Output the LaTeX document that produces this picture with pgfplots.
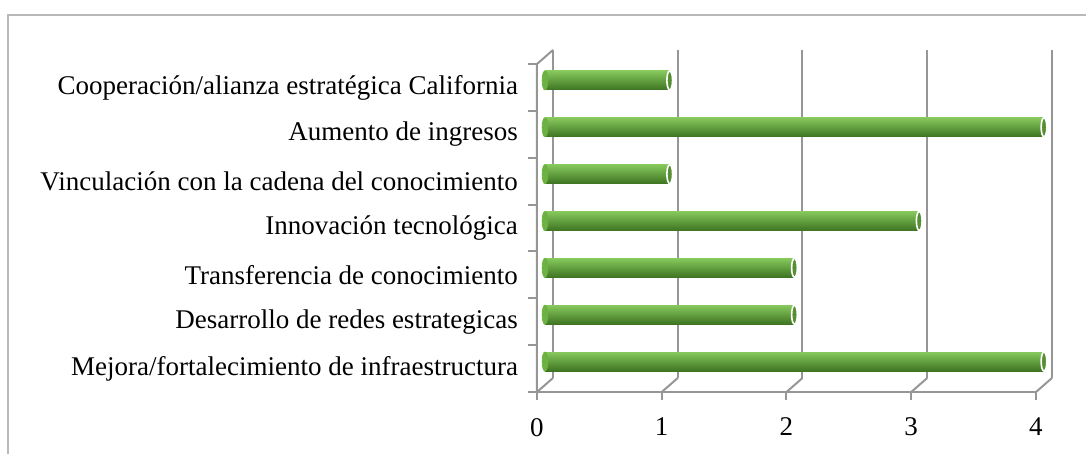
\documentclass[border=0pt]{standalone}
\usepackage{fontspec}
\setmainfont{Liberation Serif}
\usepackage{pgfplots}
\pgfplotsset{compat=1.18}
\definecolor{gridc}{RGB}{150,150,150}
\definecolor{frm}{RGB}{185,185,185}
\definecolor{gtop}{RGB}{134,200,92}
\definecolor{gmid}{RGB}{108,178,66}
\definecolor{gbot}{RGB}{62,116,34}
\definecolor{gcap}{RGB}{86,142,50}

\pgfplotsset{cyl/.style={xbar, bar width=9.5pt, draw=none, xshift=4pt, yshift=3.5pt,
  top color=gtop, middle color=gmid, bottom color=gbot}}

\begin{document}
\begin{tikzpicture}
\begin{axis}[
  scale only axis, width=249.5pt, height=164pt,
  xmin=0, xmax=4, ymin=0.5, ymax=7.5,
  axis line style={draw=none},
  xtick={0,...,4}, ytick={1,...,7},
  yticklabels={Mejora/fortalecimiento de infraestructura,
    Desarrollo de redes estrategicas,
    Transferencia de conocimiento,
    Innovación tecnológica,
    Vinculación con la cadena del conocimiento\hspace{13pt},
    Aumento de ingresos,
    Cooperación/alianza estratégica California},
  major tick length=0pt,
  ticklabel style={font=\fontsize{13.5}{15}\selectfont},
  yticklabel style={xshift=-6pt},
  xticklabel style={yshift=-9.5pt},
  /pgf/number format/assume math mode=true,
  clip=false,
]
\coordinate (O) at (axis cs:0,0.5);
% back gridlines and depth edges
\pgfplotsinvokeforeach{0,...,4}{
  \draw[gridc, line width=1pt] ([xshift=8pt,yshift=7pt]axis cs:#1,0.5) -- ([xshift=8pt,yshift=7pt]axis cs:#1,7.5);
  \draw[gridc, line width=1pt] (axis cs:#1,0.5) -- ([xshift=8pt,yshift=7pt]axis cs:#1,0.5);
  \draw[gridc, line width=1pt] (axis cs:#1,0.5) -- ([yshift=-4pt]axis cs:#1,0.5);
}
\draw[gridc, line width=1pt] (axis cs:0,0.5) -- (axis cs:4,0.5);
\draw[gridc, line width=1pt] (axis cs:0,0.5) -- (axis cs:0,7.5) -- ([xshift=8pt,yshift=7pt]axis cs:0,7.5);
\pgfplotsinvokeforeach{0.5,1.5,...,7.5}{
  \draw[gridc, line width=1pt] (axis cs:0,#1) -- ([xshift=-4.5pt]axis cs:0,#1);
}
% left rounded ends
\addplot[only marks, mark=*, mark size=4.75pt, xshift=4pt, yshift=3.5pt,
  mark options={xscale=0.3, fill=gmid, draw=gmid}]
  coordinates {(0,1) (0,2) (0,3) (0,4) (0,5) (0,6) (0,7)};
% cylinders, one per category so each gets its own shading
\addplot[cyl] coordinates {(4,1)};
\addplot[cyl] coordinates {(2,2)};
\addplot[cyl] coordinates {(2,3)};
\addplot[cyl] coordinates {(3,4)};
\addplot[cyl] coordinates {(1,5)};
\addplot[cyl] coordinates {(4,6)};
\addplot[cyl] coordinates {(1,7)};
% end caps
\addplot[only marks, mark=*, mark size=4.75pt, xshift=4pt, yshift=3.5pt,
  mark options={xscale=0.3, fill=gcap, draw=white, line width=0.8pt}]
  coordinates {(4,1) (2,2) (2,3) (3,4) (1,5) (4,6) (1,7)};
\end{axis}
\draw[frm, line width=0.8pt] ([shift={(-264.5pt,-31pt)}]O) -- ([shift={(-264.5pt,188.5pt)}]O) -- ([shift={(274.5pt,188.5pt)}]O);
\pgfresetboundingbox
\path ([shift={(-268.5pt,-31pt)}]O) rectangle ([shift={(274.5pt,196pt)}]O);
\end{tikzpicture}
\end{document}
